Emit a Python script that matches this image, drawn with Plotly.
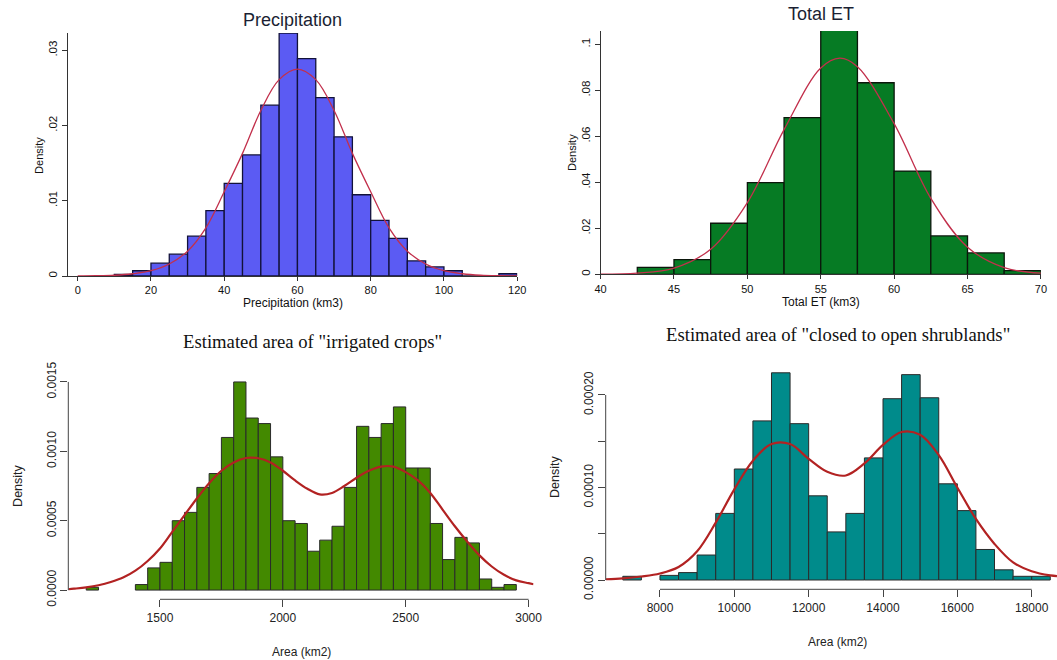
import plotly.graph_objects as go

W, H = 1057, 660

# ---------------- data ----------------
# Panel 1: Precipitation (Stata)
precip_bin_left = [10, 15, 20, 25, 30, 35, 40, 45, 50, 55, 60, 65, 70, 75, 80, 85, 90, 95, 100, 105, 110, 115]
precip_bin_width = 5
precip_density = [0.0002, 0.0007, 0.0017, 0.0029, 0.0053, 0.0087, 0.0123, 0.0161, 0.0227, 0.0323, 0.0289,
                  0.0237, 0.0185, 0.0108, 0.0074, 0.0050, 0.0020, 0.0012, 0.0007, 0.0, 0.0, 0.0003]
precip_curve_x = [0, 5, 10, 15, 20, 25, 30, 35, 40, 45, 50, 55, 60, 65, 70, 75, 80, 85, 90, 95, 100, 105, 110, 115, 120]
precip_curve_y = [0.00001, 0.00003, 0.0001, 0.0003, 0.0007, 0.0016, 0.0033, 0.0064, 0.0112, 0.0163, 0.0220, 0.0261,
                  0.0275, 0.0261, 0.0220, 0.0163, 0.0112, 0.0064, 0.0033, 0.0016, 0.0007, 0.0003, 0.0001, 0.00003, 0.00001]
precip_xticks = [0, 20, 40, 60, 80, 100, 120]
precip_yticks = [0, 0.01, 0.02, 0.03]
precip_ytick_text = ["0", ".01", ".02", ".03"]

# Panel 2: Total ET (Stata)
et_bin_left = [42.5, 45, 47.5, 50, 52.5, 55, 57.5, 60, 62.5, 65, 67.5]
et_bin_width = 2.5
et_density = [0.0030, 0.0064, 0.0222, 0.0399, 0.0681, 0.1061, 0.0833, 0.0449, 0.0167, 0.0093, 0.0016]
et_curve_x = [40, 42.5, 45, 47.5, 50, 52.5, 55, 56.3, 57.5, 60, 62.5, 65, 67.5, 70]
et_curve_y = [0.00006, 0.0005, 0.0027, 0.0109, 0.0312, 0.0629, 0.0897, 0.094, 0.0903, 0.0655, 0.0330, 0.0118, 0.0029, 0.0005]
et_xticks = [40, 45, 50, 55, 60, 65, 70]
et_yticks = [0, 0.02, 0.04, 0.06, 0.08, 0.1]
et_ytick_text = ["0", ".02", ".04", ".06", ".08", ".1"]

# Panel 3: irrigated crops (R)
crop_bin_left = [1200, 1400, 1450, 1500, 1550, 1600, 1650, 1700, 1750, 1800, 1850, 1900, 1950, 2000, 2050, 2100,
                 2150, 2200, 2250, 2300, 2350, 2400, 2450, 2500, 2550, 2600, 2650, 2700, 2750, 2800, 2850, 2900]
crop_bin_width = 50
crop_density = [0.00002, 0.00004, 0.00016, 0.00020, 0.00050, 0.00056, 0.00074, 0.00084, 0.00110, 0.00150, 0.00124,
                0.00120, 0.00096, 0.00050, 0.00048, 0.00028, 0.00036, 0.00046, 0.00074, 0.00118, 0.00110, 0.00120,
                0.00132, 0.00088, 0.00088, 0.00048, 0.00022, 0.00038, 0.00034, 0.00008, 0.00002, 0.00004]
crop_curve_x = [1127, 1150, 1200, 1250, 1300, 1350, 1400, 1450, 1500, 1550, 1600, 1650, 1700, 1750, 1800, 1850,
                1900, 1950, 2000, 2050, 2100, 2150, 2200, 2250, 2300, 2350, 2400, 2450, 2500, 2550, 2600, 2650,
                2700, 2750, 2800, 2850, 2900, 2950, 3000, 3020]
crop_curve_y = [0.000006, 0.00001, 0.00002, 0.000035, 0.000058, 0.00009, 0.00014, 0.00021, 0.00030, 0.00042,
                0.00054, 0.00066, 0.00077, 0.00086, 0.00092, 0.000952, 0.00095, 0.00092, 0.00086, 0.00079,
                0.00073, 0.00069, 0.00070, 0.00075, 0.00081, 0.00086, 0.00089, 0.00089, 0.00085, 0.00079,
                0.00070, 0.00058, 0.00046, 0.00035, 0.00025, 0.00017, 0.00011, 0.00007, 0.00005, 0.000042]
crop_xticks = [1500, 2000, 2500, 3000]
crop_xtick_text = ["1500", "2000", "2500", "3000"]
crop_yticks = [0, 0.0005, 0.0010, 0.0015]
crop_ytick_text = ["0.0000", "0.0005", "0.0010", "0.0015"]

# Panel 4: closed to open shrublands (R)
shrub_bin_left = [7000, 8000, 8500, 9000, 9500, 10000, 10500, 11000, 11500, 12000, 12500, 13000, 13500, 14000,
                  14500, 15000, 15500, 16000, 16500, 17000, 17500, 18000]
shrub_bin_width = 500
shrub_density = [0.000004, 0.000005, 0.000008, 0.000027, 0.000072, 0.000120, 0.000172, 0.000224, 0.000169, 0.000091,
                 0.000052, 0.000072, 0.000132, 0.000196, 0.000222, 0.000197, 0.000104, 0.000075, 0.000033, 0.000011,
                 0.000004, 0.000004]
shrub_curve_x = [6540, 7000, 7500, 8000, 8500, 9000, 9500, 10000, 10500, 11000, 11500, 12000, 12500, 13000,
                 13500, 14000, 14500, 15000, 15500, 16000, 16500, 17000, 17500, 18000, 18500, 18680]
shrub_curve_y = [0.0000008, 0.0000018, 0.0000038, 0.000007, 0.000014, 0.000031, 0.000062, 0.000098, 0.000129,
                 0.000147, 0.000147, 0.000131, 0.000117, 0.000113, 0.000126, 0.000146, 0.00016, 0.000157,
                 0.000135, 0.0001, 0.000066, 0.000039, 0.000019, 0.0000095, 0.000005, 0.0000043]
shrub_xticks = [8000, 10000, 12000, 14000, 16000, 18000]
shrub_xtick_text = ["8000", "10000", "12000", "14000", "16000", "18000"]
shrub_yticks = [0, 0.00005, 0.0001, 0.00015, 0.0002]
shrub_ytick_text = ["0.00000", "", "0.00010", "", "0.00020"]


def px_x(p):
    return p / W


def px_y(p):
    return 1 - p / H


fig = go.Figure()

# ---------- traces ----------
fig.add_trace(go.Bar(x=precip_bin_left, y=precip_density, width=precip_bin_width, offset=0,
                     marker=dict(color="#5b5bf3", line=dict(color="#12123a", width=1.3)),
                     xaxis="x", yaxis="y", showlegend=False))
fig.add_trace(go.Scatter(x=precip_curve_x, y=precip_curve_y, mode="lines",
                         line=dict(color="#c2304c", width=1.3, shape="spline"),
                         xaxis="x", yaxis="y", showlegend=False))

fig.add_trace(go.Bar(x=et_bin_left, y=et_density, width=et_bin_width, offset=0,
                     marker=dict(color="#067b24", line=dict(color="#0b160b", width=1.3)),
                     xaxis="x2", yaxis="y2", showlegend=False))
fig.add_trace(go.Scatter(x=et_curve_x, y=et_curve_y, mode="lines",
                         line=dict(color="#c2304c", width=1.3, shape="spline"),
                         xaxis="x2", yaxis="y2", showlegend=False))

fig.add_trace(go.Bar(x=crop_bin_left, y=crop_density, width=crop_bin_width, offset=0,
                     marker=dict(color="#438900", line=dict(color="#2a2a2a", width=1)),
                     xaxis="x3", yaxis="y3", showlegend=False))
fig.add_trace(go.Scatter(x=crop_curve_x, y=crop_curve_y, mode="lines",
                         line=dict(color="#b22222", width=2.2, shape="spline"),
                         xaxis="x3", yaxis="y3", showlegend=False))

fig.add_trace(go.Bar(x=shrub_bin_left, y=shrub_density, width=shrub_bin_width, offset=0,
                     marker=dict(color="#008b8b", line=dict(color="#2a2a2a", width=1)),
                     xaxis="x4", yaxis="y4", showlegend=False))
fig.add_trace(go.Scatter(x=shrub_curve_x, y=shrub_curve_y, mode="lines",
                         line=dict(color="#b22222", width=2.2, shape="spline"),
                         xaxis="x4", yaxis="y4", showlegend=False))

sans = "Liberation Sans, Arial, sans-serif"
serif = "Liberation Serif, Times New Roman, serif"

stata_x = dict(showgrid=False, zeroline=False, showline=True, linecolor="#333333", linewidth=1, automargin=False,
               ticks="outside", ticklen=4, tickcolor="#333333", tickfont=dict(family=sans, size=11, color="#111111"))
stata_y = dict(showgrid=False, zeroline=False, showline=True, linecolor="#333333", linewidth=1, automargin=False,
               ticks="outside", ticklen=5, tickcolor="#333333", tickfont=dict(family=sans, size=11.5, color="#111111"))
r_ax = dict(showgrid=False, zeroline=False, showline=False, automargin=False,
            ticks="outside", ticklen=7, tickcolor="#444444", tickfont=dict(family=sans, size=12, color="#222222"))

fig.update_layout(
    width=W, height=H, margin=dict(l=0, r=0, t=0, b=0, autoexpand=False),
    paper_bgcolor="white", plot_bgcolor="white", barmode="overlay",
    xaxis=dict(domain=[px_x(67.6), px_x(517.2)], range=[-2.76, 120], tickvals=precip_xticks, anchor="y", **stata_x),
    yaxis=dict(domain=[px_y(276), px_y(33)], range=[0, 0.0323], tickvals=precip_yticks, ticktext=precip_ytick_text,
               tickangle=-90, anchor="x", **stata_y),
    xaxis2=dict(domain=[px_x(600.6), px_x(1040.9)], range=[40, 70], tickvals=et_xticks, anchor="y2", **stata_x),
    yaxis2=dict(domain=[px_y(274.3), px_y(31)], range=[0, 0.1058], tickvals=et_yticks, ticktext=et_ytick_text,
                tickangle=-90, anchor="x2", **stata_y),
    xaxis3=dict(domain=[px_x(68.3), px_x(533.5)], range=[1127, 3020], tickvals=crop_xticks, ticktext=crop_xtick_text,
                anchor="y3", **r_ax),
    yaxis3=dict(domain=[px_y(599.3), px_y(375)], range=[-0.0000664, 0.00155], tickvals=crop_yticks,
                ticktext=crop_ytick_text, tickangle=-90, anchor="x3", **r_ax),
    xaxis4=dict(domain=[px_x(605.7), 1.0], range=[6540, 18681], tickvals=shrub_xticks, ticktext=shrub_xtick_text,
                anchor="y4", **r_ax),
    yaxis4=dict(domain=[px_y(589.3), px_y(364)], range=[-0.00001005, 0.0002335], tickvals=shrub_yticks,
                ticktext=shrub_ytick_text, tickangle=-90, anchor="x4", **r_ax),
)

# R-style axis lines spanning only the tick range
shapes = [
    dict(type="line", xref="x3", yref="y3 domain", x0=min(crop_xticks), x1=max(crop_xticks), y0=0, y1=0,
         line=dict(color="#444444", width=1)),
    dict(type="line", xref="x3 domain", yref="y3", x0=0, x1=0, y0=min(crop_yticks), y1=max(crop_yticks),
         line=dict(color="#444444", width=1)),
    dict(type="line", xref="x4", yref="y4 domain", x0=min(shrub_xticks), x1=max(shrub_xticks), y0=0, y1=0,
         line=dict(color="#444444", width=1)),
    dict(type="line", xref="x4 domain", yref="y4", x0=0, x1=0, y0=min(shrub_yticks), y1=max(shrub_yticks),
         line=dict(color="#444444", width=1)),
]
fig.update_layout(shapes=shapes)


def ann(text, x, y, size, family, color="#111111", angle=0):
    return dict(text=text, x=px_x(x), y=px_y(y), xref="paper", yref="paper", showarrow=False,
                xanchor="center", yanchor="middle", textangle=angle,
                font=dict(family=family, size=size, color=color))


annotations = [
    ann("Precipitation", 292.4, 20, 18, sans, "#1b1f33"),
    ann("Precipitation (km3)", 293.4, 303, 12, sans),
    ann("Density", 38.9, 155, 11, sans, angle=-90),
    ann("Total ET", 820.7, 14, 18, sans, "#1b1f33"),
    ann("Total ET (km3)", 820.7, 302, 12, sans),
    ann("Density", 572, 153, 11, sans, angle=-90),
    ann('Estimated area of "irrigated crops"', 312.5, 341, 18.7, serif, "#111111"),
    ann("Area (km2)", 301.3, 652, 12, sans, "#222222"),
    ann("Density", 17.9, 486, 12.5, sans, "#222222", angle=-90),
    ann('Estimated area of "closed to open shrublands"', 838, 334, 18.7, serif, "#111111"),
    ann("Area (km2)", 837, 642, 12, sans, "#222222"),
    ann("Density", 555, 477, 12.5, sans, "#222222", angle=-90),
]
fig.update_layout(annotations=annotations)

fig.write_html("out.html")
